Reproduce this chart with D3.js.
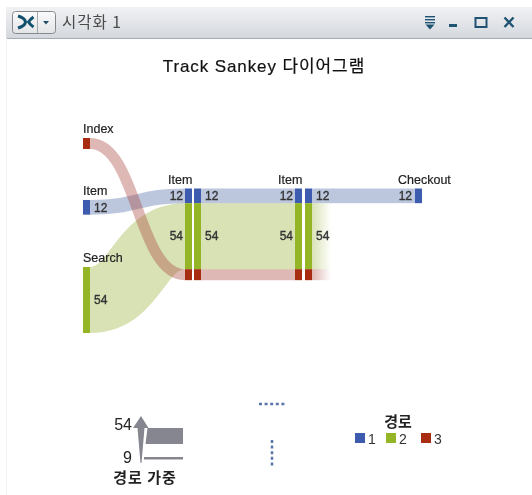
<!DOCTYPE html>
<html>
<head>
<meta charset="utf-8">
<script src="https://cdn.jsdelivr.net/npm/d3@7"></script>
<style>
  html, body { margin: 0; padding: 0; background: #fff; overflow: hidden; }
  svg { display: block; filter: blur(0.45px); }
  text { font-family: "Liberation Sans", "Noto Sans CJK KR", sans-serif; }
  .kr { font-family: "Noto Sans CJK KR", sans-serif; }
</style>
</head>
<body>
<div id="chart"></div>
<script>
// 경로별 값
const pathIds = [1, 2, 3];
const pathWeights = [12, 54, 9];
const pathColors = ['#3d5cb0', '#94b526', '#a82c12'];
const linkColors = ['#4f6ca5', '#98b33c', '#a8443a'];
const startNames = ['Item', 'Search', 'Index'];
const pathEnds = ['Checkout', null, null];
const stepNames = ['Item', 'Item'];
const weightTicks = [54, 9];
const weightLabel = '경로 가중';
const legendLabel = '경로';
const chartTitle = 'Track Sankey 다이어그램';
const windowTitle = '시각화 1';

const width = 532, height = 495;
const barW = 7;

const svg = d3.select('#chart').append('svg')
  .attr('width', width)
  .attr('height', height);
const defs = svg.append('defs');

// 창 제목줄
const barGrad = defs.append('linearGradient').attr('id', 'barGrad')
  .attr('x1', 0).attr('y1', 0).attr('x2', 0).attr('y2', 1);
barGrad.append('stop').attr('offset', 0).attr('stop-color', '#f1f2f4');
barGrad.append('stop').attr('offset', 1).attr('stop-color', '#d4d8dd');
const btnGrad = defs.append('linearGradient').attr('id', 'btnGrad')
  .attr('x1', 0).attr('y1', 0).attr('x2', 0).attr('y2', 1);
btnGrad.append('stop').attr('offset', 0).attr('stop-color', '#fbfbfc');
btnGrad.append('stop').attr('offset', 1).attr('stop-color', '#e3e4e6');

const chrome = svg.append('g');
chrome.append('rect').attr('x', 6).attr('y', 7).attr('width', 526).attr('height', 31)
  .attr('fill', 'url(#barGrad)');
chrome.append('line').attr('x1', 6).attr('x2', 532).attr('y1', 38.5).attr('y2', 38.5)
  .attr('stroke', '#a8acb2');
chrome.append('line').attr('x1', 6.5).attr('x2', 6.5).attr('y1', 38).attr('y2', 495)
  .attr('stroke', '#f0f1f2');
chrome.append('rect').attr('x', 12.5).attr('y', 11.5).attr('width', 43).attr('height', 22)
  .attr('rx', 3).attr('fill', 'url(#btnGrad)').attr('stroke', '#85888d');
chrome.append('line').attr('x1', 37.5).attr('x2', 37.5).attr('y1', 12).attr('y2', 33)
  .attr('stroke', '#a6a8ac');
chrome.append('path').attr('d', 'M18 16Q25 18 25.5 22Q25 26 18 28')
  .attr('fill', 'none').attr('stroke', '#12506f').attr('stroke-width', 3);
chrome.append('path').attr('d', 'M33.5 17Q30 19.5 28.5 22Q30 24.5 33.5 27')
  .attr('fill', 'none').attr('stroke', '#12506f').attr('stroke-width', 3);
chrome.append('path').attr('d', 'M43 21h6l-3 3.5z').attr('fill', '#234e69');
chrome.append('text').attr('class', 'kr').attr('x', 62).attr('y', 28)
  .attr('font-size', 15.5).attr('letter-spacing', 1).attr('fill', '#4a4a4a').text(windowTitle);

const icons = chrome.append('g').attr('fill', '#1f5273');
[16, 19, 22].forEach(y => icons.append('rect').attr('x', 425).attr('y', y).attr('width', 10).attr('height', 1.4));
icons.append('path').attr('d', 'M425.5 24.5h9l-4.5 5z');
icons.append('rect').attr('x', 449).attr('y', 24).attr('width', 8).attr('height', 3);
icons.append('rect').attr('x', 475.5).attr('y', 18).attr('width', 11).attr('height', 9)
  .attr('fill', 'none').attr('stroke', '#1f5273').attr('stroke-width', 2);
icons.append('path').attr('d', 'M504.5 17.5L513.5 27M513.5 17.5L504.5 27')
  .attr('fill', 'none').attr('stroke', '#1f5273').attr('stroke-width', 2.4);

svg.append('text').attr('x', 264).attr('y', 72)
  .attr('text-anchor', 'middle').attr('font-size', 17).attr('fill', '#111')
  .attr('letter-spacing', 0.9).attr('stroke', '#111').attr('stroke-width', 0.2).text(chartTitle);

// 스케일
const thick = d3.scaleLinear().domain([0, 54]).range([0, 66]);
const color = d3.scaleOrdinal(pathIds, pathColors);
const linkColor = d3.scaleOrdinal(pathIds, linkColors);
const station = d3.scaleOrdinal(['s', 'a1', 'a2', 'b1', 'b2', 'e'], [83, 185, 194, 295, 305, 415]);
const startTop = d3.scaleOrdinal(pathIds, [200, 267, 138]);
const stackTop = 188.5;

const paths = pathIds.map((id, i) => ({
  id,
  weight: pathWeights[i],
  name: startNames[i],
  end: pathEnds[i],
  h: thick(pathWeights[i])
}));
// 컬럼 안에서는 1,2,3 순서로 쌓음
let acc = stackTop;
paths.forEach(p => { p.stackY = acc + p.h / 2; acc += p.h; });

const link = d3.linkHorizontal().x(d => d[0]).y(d => d[1]);
const linkG = svg.append('g').attr('fill', 'none');
const linkOpacity = 0.38;

// 첫 구간 곡선 (초록, 파랑, 빨강 순서로 겹침)
linkG.selectAll('.first')
  .data([paths[1], paths[0], paths[2]])
  .enter().append('path')
  .attr('class', 'first')
  .attr('d', d => link({
    source: [station('s') + barW, startTop(d.id) + d.h / 2],
    target: [station('a1'), d.stackY]
  }))
  .attr('stroke', d => linkColor(d.id))
  .attr('stroke-opacity', linkOpacity)
  .attr('stroke-width', d => d.h);

// 컬럼 사이 직선
linkG.selectAll('.mid')
  .data(paths)
  .enter().append('path')
  .attr('class', 'mid')
  .attr('d', d => `M${station('a2') + barW},${d.stackY}H${station('b1')}`)
  .attr('stroke', d => linkColor(d.id))
  .attr('stroke-opacity', linkOpacity)
  .attr('stroke-width', d => d.h);

// 마지막 구간: Checkout까지 또는 흐려지며 끝남
const fadeEnd = 331;
paths.filter(d => !d.end).forEach(d => {
  const g = defs.append('linearGradient').attr('id', 'fade' + d.id)
    .attr('gradientUnits', 'userSpaceOnUse')
    .attr('x1', station('b2') + barW).attr('x2', fadeEnd).attr('y1', 0).attr('y2', 0);
  g.append('stop').attr('offset', 0).attr('stop-color', linkColor(d.id)).attr('stop-opacity', linkOpacity);
  g.append('stop').attr('offset', 1).attr('stop-color', linkColor(d.id)).attr('stop-opacity', 0);
});
linkG.selectAll('.last')
  .data(paths)
  .enter().append('rect')
  .attr('class', 'last')
  .attr('x', station('b2') + barW)
  .attr('y', d => d.stackY - d.h / 2)
  .attr('width', d => d.end ? station('e') - station('b2') - barW : fadeEnd - station('b2') - barW)
  .attr('height', d => d.h)
  .attr('fill', d => d.end ? linkColor(d.id) : `url(#fade${d.id})`)
  .attr('fill-opacity', d => d.end ? linkOpacity : 1);

// 노드 막대
const nodes = [];
paths.forEach(p => {
  nodes.push({ p, st: 's', y: startTop(p.id) });
  ['a1', 'a2', 'b1', 'b2'].forEach(st => nodes.push({ p, st, y: p.stackY - p.h / 2 }));
  if (p.end) nodes.push({ p, st: 'e', y: p.stackY - p.h / 2 });
});
svg.append('g').selectAll('rect')
  .data(nodes)
  .enter().append('rect')
  .attr('x', d => station(d.st))
  .attr('y', d => d.y)
  .attr('width', barW)
  .attr('height', d => d.p.h)
  .attr('fill', d => color(d.p.id));

// 값 라벨 (빨강 경로는 막대가 얇아 표시 안 함)
const valueLabels = [];
paths.filter(p => p.id !== 3).forEach(p => {
  valueLabels.push({ p, x: station('s') + barW + 4, y: startTop(p.id) + p.h / 2, a: 'start' });
  valueLabels.push({ p, x: station('a1') - 2, y: p.stackY, a: 'end' });
  valueLabels.push({ p, x: station('a2') + barW + 4, y: p.stackY, a: 'start' });
  valueLabels.push({ p, x: station('b1') - 2, y: p.stackY, a: 'end' });
  valueLabels.push({ p, x: station('b2') + barW + 4, y: p.stackY, a: 'start' });
  if (p.end) valueLabels.push({ p, x: station('e') - 3, y: p.stackY, a: 'end' });
});
svg.append('g').selectAll('text')
  .data(valueLabels)
  .enter().append('text')
  .attr('x', d => d.x)
  .attr('y', d => d.y)
  .attr('dy', '0.36em')
  .attr('text-anchor', d => d.a)
  .attr('font-size', 12)
  .attr('stroke', '#333')
  .attr('stroke-width', 0.35)
  .attr('fill', '#333')
  .text(d => d.p.weight);

// 노드 이름
const nameLabels = paths.map(p => ({ x: station('s'), y: startTop(p.id) - 5, t: p.name }))
  .concat([
    { x: station('a1') - 17, y: stackTop - 4.5, t: stepNames[0] },
    { x: station('b1') - 17, y: stackTop - 4.5, t: stepNames[1] },
    { x: station('e') - 17, y: stackTop - 4.5, t: pathEnds[0] }
  ]);
svg.append('g').selectAll('text')
  .data(nameLabels)
  .enter().append('text')
  .attr('x', d => d.x)
  .attr('y', d => d.y)
  .attr('font-size', 12.5)
  .attr('stroke', '#222')
  .attr('stroke-width', 0.2)
  .attr('fill', '#222')
  .text(d => d.t);

// 경로 가중 범례
const legendH = d3.scaleLinear().domain(d3.extent(weightTicks)).range([2.5, 16]);
const wl = svg.append('g');
wl.append('path').attr('d', 'M141 416L148.5 428H144.5L141.5 463H140.5L137.5 428H133Z').attr('fill', '#85868f');
wl.append('path')
  .attr('d', `M147.5 428H183V${428 + legendH(54)}H145.5Z`)
  .attr('fill', '#85868f');
wl.append('rect').attr('x', 144).attr('y', 457).attr('width', 39).attr('height', legendH(9)).attr('fill', '#85868f');
wl.selectAll('.tick')
  .data(weightTicks)
  .enter().append('text')
  .attr('class', 'tick')
  .attr('x', 132)
  .attr('y', (d, i) => i === 0 ? 430 : 463)
  .attr('text-anchor', 'end')
  .attr('font-size', 16)
  .attr('fill', '#222')
  .text(d => d);
wl.append('text').attr('class', 'kr').attr('x', 145).attr('y', 483)
  .attr('text-anchor', 'middle').attr('font-size', 15).attr('font-weight', 'bold')
  .attr('letter-spacing', 1).attr('fill', '#222').text(weightLabel);

// 점선 분할 표시
svg.append('line').attr('x1', 259).attr('x2', 285).attr('y1', 404).attr('y2', 404)
  .attr('stroke', '#5a76a8').attr('stroke-width', 2.5).attr('stroke-dasharray', '3 2.6');
svg.append('line').attr('x1', 272).attr('x2', 272).attr('y1', 440).attr('y2', 466)
  .attr('stroke', '#5a76a8').attr('stroke-width', 2.5).attr('stroke-dasharray', '3 2.6');

// 경로 범례
const legend = svg.append('g');
legend.append('text').attr('class', 'kr').attr('x', 398).attr('y', 427)
  .attr('text-anchor', 'middle').attr('font-size', 15).attr('font-weight', 'bold')
  .attr('fill', '#222').text(legendLabel);
const legendX = d3.scaleOrdinal(pathIds, [355, 386, 421]);
const item = legend.selectAll('.item')
  .data(pathIds)
  .enter().append('g')
  .attr('class', 'item')
  .attr('transform', d => `translate(${legendX(d)},433)`);
item.append('rect').attr('width', 10).attr('height', 10).attr('fill', d => color(d));
item.append('text').attr('x', 13).attr('y', 10.5).attr('font-size', 14).attr('fill', '#333').text(d => d);
</script>
</body>
</html>
